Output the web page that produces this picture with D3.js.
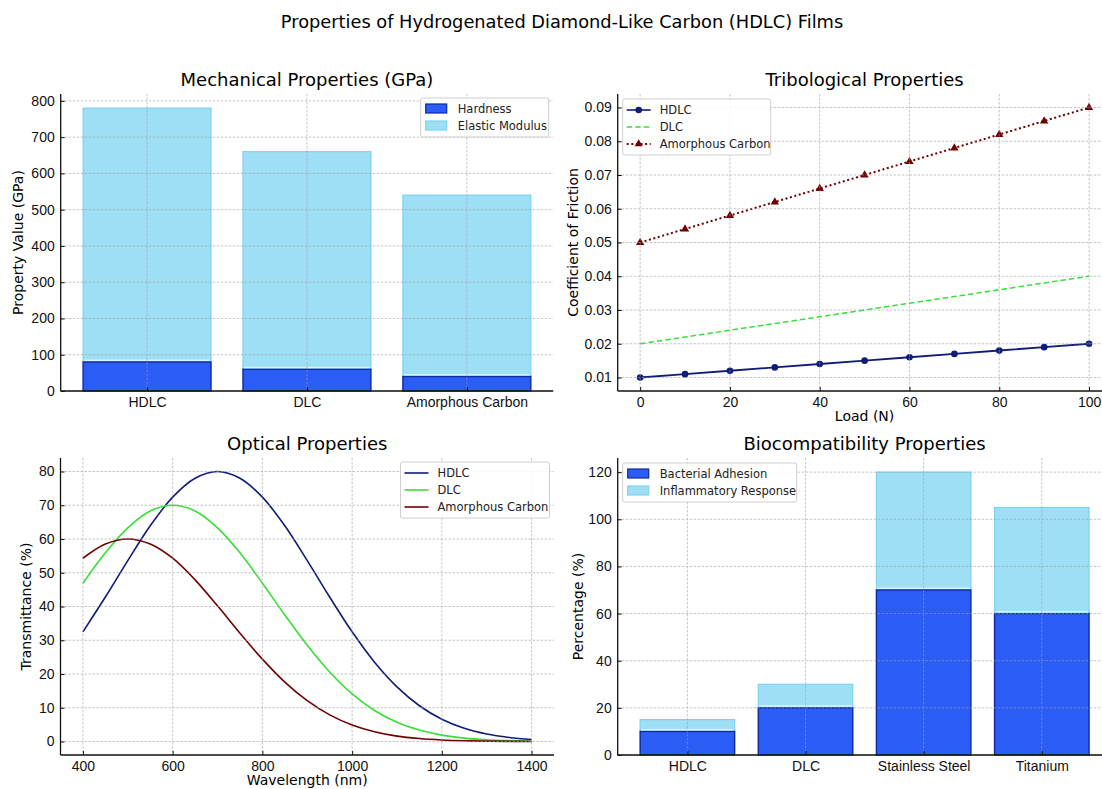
<!DOCTYPE html>
<html>
<head>
<meta charset="utf-8">
<script src="https://cdn.jsdelivr.net/npm/d3@7"></script>
<style>
  body { margin: 0; background: #fff; }
  svg { font-family: "DejaVu Sans", sans-serif; }
</style>
</head>
<body>
<script>
// ---- data ----
const mechCategories = ["HDLC", "DLC", "Amorphous Carbon"];
const hardness = [80, 60, 40];
const elasticModulus = [700, 600, 500];   // stacked on top of hardness
const mechTicks = [0, 100, 200, 300, 400, 500, 600, 700, 800];

const loads = [0, 10, 20, 30, 40, 50, 60, 70, 80, 90, 100];
const cofHDLC = [0.010, 0.011, 0.012, 0.013, 0.014, 0.015, 0.016, 0.017, 0.018, 0.019, 0.020];
const cofDLC = [0.020, 0.022, 0.024, 0.026, 0.028, 0.030, 0.032, 0.034, 0.036, 0.038, 0.040];
const cofAC = [0.050, 0.054, 0.058, 0.062, 0.066, 0.070, 0.074, 0.078, 0.082, 0.086, 0.090];
const loadTicks = [0, 20, 40, 60, 80, 100];
const cofTicks = [0.01, 0.02, 0.03, 0.04, 0.05, 0.06, 0.07, 0.08, 0.09];

const wavelengths = [400, 450, 500, 550, 600, 650, 700, 750, 800, 850, 900, 950, 1000,
  1050, 1100, 1150, 1200, 1250, 1300, 1350, 1400];
const transHDLC = [32.5, 42.8, 53.6, 63.9, 72.4, 78.0, 80.0, 78.0, 72.4, 63.9, 53.6, 42.8, 32.5,
  23.5, 16.2, 10.6, 6.6, 3.9, 2.2, 1.2, 0.6];
const transDLC = [46.9, 55.9, 63.3, 68.3, 70.0, 68.3, 63.3, 55.9, 46.9, 37.5, 28.5, 20.6, 14.1,
  9.2, 5.7, 3.4, 1.9, 1.0, 0.5, 0.25, 0.12];
const transAC = [54.3, 58.5, 60.0, 58.5, 54.3, 47.9, 40.2, 32.1, 24.4, 17.6, 12.1, 7.9, 4.9,
  2.9, 1.6, 0.88, 0.45, 0.22, 0.10, 0.04, 0.02];
const waveTicks = [400, 600, 800, 1000, 1200, 1400];
const transTicks = [0, 10, 20, 30, 40, 50, 60, 70, 80];

const bioCategories = ["HDLC", "DLC", "Stainless Steel", "Titanium"];
const bacterialAdhesion = [10, 20, 70, 60];
const inflammatoryResponse = [5, 10, 50, 45];   // stacked
const bioTicks = [0, 20, 40, 60, 80, 100, 120];

// ---- styles ----
const darkFill = "#2b5cf6", darkEdge = "#0c2a9e";
const lightFill = "#9edff6", lightEdge = "#7dd2f0";
const navy = "#0f1c78", green = "#36e036", maroon = "#6e0000";

const svg = d3.select("body").append("svg")
  .attr("width", 1102)
  .attr("height", 789);

svg.append("text")
  .attr("x", 562).attr("y", 28)
  .attr("text-anchor", "middle")
  .style("font-size", "17.8px")
  .text("Properties of Hydrogenated Diamond-Like Carbon (HDLC) Films");

function panel(box, xScale, yScale, xTicks, yTicks, xFmt, yFmt, title, xLabel, yLabel, yLabelX) {
  const g = svg.append("g").attr("transform", "translate(" + box.x + "," + box.y + ")");
  g.append("text")
    .attr("x", box.w / 2).attr("y", -8)
    .attr("text-anchor", "middle")
    .style("font-size", "18px")
    .text(title);
  const marks = g.append("g");
  const grid = g.append("g")
    .attr("stroke", "#a0a0a0")
    .attr("stroke-width", 0.8)
    .attr("stroke-dasharray", "2.5,1.5")
    .attr("opacity", 0.75);
  grid.selectAll(".gx").data(xTicks).join("line")
    .attr("x1", d => xScale(d)).attr("x2", d => xScale(d))
    .attr("y1", 0).attr("y2", box.h);
  grid.selectAll(".gy").data(yTicks).join("line")
    .attr("y1", d => yScale(d)).attr("y2", d => yScale(d))
    .attr("x1", 0).attr("x2", box.w);

  const xAxis = g.append("g")
    .attr("transform", "translate(0," + box.h + ")")
    .call(d3.axisBottom(xScale).tickValues(xTicks).tickFormat(xFmt)
      .tickSizeInner(-4).tickSizeOuter(0).tickPadding(6));
  const yAxis = g.append("g")
    .call(d3.axisLeft(yScale).tickValues(yTicks).tickFormat(yFmt)
      .tickSizeInner(-4).tickSizeOuter(0).tickPadding(6));
  [xAxis, yAxis].forEach(a => {
    a.selectAll("text").style("font-size", "14px").attr("fill", "#111");
    a.select(".domain").attr("stroke", "#111").attr("stroke-width", 1.3);
    a.selectAll(".tick line").attr("stroke", "#111");
  });
  xAxis.select(".domain").attr("d", "M0,0H" + box.w);
  yAxis.select(".domain").attr("d", "M0,0V" + box.h);

  g.append("text")
    .attr("x", box.w / 2).attr("y", box.h + 30)
    .attr("text-anchor", "middle")
    .style("font-size", "14px")
    .text(xLabel);
  g.append("text")
    .attr("transform", "translate(" + yLabelX + "," + (box.h / 2) + ") rotate(-90)")
    .attr("text-anchor", "middle")
    .style("font-size", "14px")
    .text(yLabel);
  return { g: g, marks: marks };
}

function legend(g, x, y, w, items) {
  const lg = g.append("g").attr("transform", "translate(" + x + "," + y + ")");
  const h = items.length * 17 + 5;
  lg.append("rect")
    .attr("width", w).attr("height", h)
    .attr("rx", 2)
    .attr("fill", "rgba(255,255,255,0.85)")
    .attr("stroke", "#cfcfcf");
  items.forEach((it, i) => {
    const cy = 11 + i * 17;
    const row = lg.append("g");
    if (it.type === "patch") {
      row.append("rect")
        .attr("x", 5).attr("y", cy - 5).attr("width", 21).attr("height", 9)
        .attr("fill", it.fill).attr("stroke", it.edge).attr("stroke-width", 1.2);
    } else {
      row.append("line")
        .attr("x1", 4).attr("x2", 28).attr("y1", cy).attr("y2", cy)
        .attr("stroke", it.color).attr("stroke-width", it.width || 1.6)
        .attr("stroke-dasharray", it.dash || null);
      if (it.marker) {
        row.append("path")
          .attr("transform", "translate(16," + cy + ")")
          .attr("d", d3.symbol(it.marker, it.msize)())
          .attr("fill", it.color);
      }
    }
    row.append("text")
      .attr("x", 37).attr("y", cy + 4)
      .style("font-size", "11.5px")
      .attr("fill", "#222")
      .text(it.label);
  });
}

// ---- panel 1: mechanical ----
{
  const box = { x: 60.7, y: 94, w: 492.5, h: 297 };
  const x = d3.scaleLinear().domain([-0.54, 2.54]).range([0, box.w]);
  const y = d3.scaleLinear().domain([0, 819]).range([box.h, 0]);
  const p = panel(box, x, y, [0, 1, 2], mechTicks, i => mechCategories[i], d3.format("d"),
    "Mechanical Properties (GPa)", "", "Property Value (GPa)", -38);
  const idx = d3.range(mechCategories.length);
  p.marks.selectAll(".em").data(idx).join("rect")
    .attr("x", i => x(i - 0.4)).attr("width", x(0.4) - x(-0.4))
    .attr("y", i => y(hardness[i] + elasticModulus[i]))
    .attr("height", i => y(hardness[i]) - y(hardness[i] + elasticModulus[i]))
    .attr("fill", lightFill).attr("stroke", lightEdge).attr("stroke-width", 1.2);
  p.marks.selectAll(".hd").data(idx).join("rect")
    .attr("x", i => x(i - 0.4)).attr("width", x(0.4) - x(-0.4))
    .attr("y", i => y(hardness[i]))
    .attr("height", i => y(0) - y(hardness[i]))
    .attr("fill", darkFill).attr("stroke", darkEdge).attr("stroke-width", 1.4);
  p.marks.selectAll(".sep").data(idx).join("line")
    .attr("x1", i => x(i - 0.4) + 1).attr("x2", i => x(i + 0.4) - 1)
    .attr("y1", i => y(hardness[i]) - 1.8).attr("y2", i => y(hardness[i]) - 1.8)
    .attr("stroke", "#d8f4fc").attr("stroke-width", 1.5);
  legend(p.g, 360, 4, 128, [
    { type: "patch", fill: darkFill, edge: darkEdge, label: "Hardness" },
    { type: "patch", fill: lightFill, edge: lightEdge, label: "Elastic Modulus" }
  ]);
}

// ---- panel 2: tribological ----
{
  const box = { x: 617.7, y: 94, w: 493.8, h: 297 };
  const x = d3.scaleLinear().domain([-5, 105]).range([0, box.w]);
  const y = d3.scaleLinear().domain([0.006, 0.094]).range([box.h, 0]);
  const p = panel(box, x, y, loadTicks, cofTicks, d3.format("d"), d3.format(".2f"),
    "Tribological Properties", "Load (N)", "Coefficient of Friction", -40);
  const line = vals => d3.line().x((d, i) => x(loads[i])).y(d => y(d))(vals);
  p.marks.append("path").attr("d", line(cofDLC))
    .attr("fill", "none").attr("stroke", green).attr("stroke-width", 1.5)
    .attr("stroke-dasharray", "5.5,3");
  p.marks.append("path").attr("d", line(cofAC))
    .attr("fill", "none").attr("stroke", maroon).attr("stroke-width", 2)
    .attr("stroke-dasharray", "2,2.6");
  p.marks.selectAll(".tri").data(cofAC).join("path")
    .attr("transform", (d, i) => "translate(" + x(loads[i]) + "," + y(d) + ")")
    .attr("d", d3.symbol(d3.symbolTriangle, 30)())
    .attr("fill", maroon);
  p.marks.append("path").attr("d", line(cofHDLC))
    .attr("fill", "none").attr("stroke", navy).attr("stroke-width", 1.8);
  p.marks.selectAll(".dot").data(cofHDLC).join("circle")
    .attr("cx", (d, i) => x(loads[i])).attr("cy", d => y(d))
    .attr("r", 3.3).attr("fill", navy);
  legend(p.g, 5, 5, 148, [
    { type: "line", color: navy, label: "HDLC", marker: d3.symbolCircle, msize: 34 },
    { type: "line", color: green, label: "DLC", dash: "5.5,3", width: 1.5 },
    { type: "line", color: maroon, label: "Amorphous Carbon", dash: "2,2.6", width: 2,
      marker: d3.symbolTriangle, msize: 28 }
  ]);
}

// ---- panel 3: optical ----
{
  const box = { x: 60.5, y: 458, w: 493.5, h: 297 };
  const x = d3.scaleLinear().domain([350, 1450]).range([0, box.w]);
  const y = d3.scaleLinear().domain([-4, 84]).range([box.h, 0]);
  const p = panel(box, x, y, waveTicks, transTicks, d3.format("d"), d3.format("d"),
    "Optical Properties", "Wavelength (nm)", "Transmittance (%)", -30);
  const line = vals => d3.line().curve(d3.curveCatmullRom)
    .x((d, i) => x(wavelengths[i])).y(d => y(d))(vals);
  [[transHDLC, navy], [transDLC, green], [transAC, maroon]].forEach(s => {
    p.marks.append("path").attr("d", line(s[0]))
      .attr("fill", "none").attr("stroke", s[1]).attr("stroke-width", 1.6);
  });
  legend(p.g, 340, 4, 149, [
    { type: "line", color: navy, label: "HDLC" },
    { type: "line", color: green, label: "DLC" },
    { type: "line", color: maroon, label: "Amorphous Carbon" }
  ]);
}

// ---- panel 4: biocompatibility ----
{
  const box = { x: 617.7, y: 458, w: 493.8, h: 297 };
  const x = d3.scaleLinear().domain([-0.59, 3.59]).range([0, box.w]);
  const y = d3.scaleLinear().domain([0, 126]).range([box.h, 0]);
  const p = panel(box, x, y, [0, 1, 2, 3], bioTicks, i => bioCategories[i], d3.format("d"),
    "Biocompatibility Properties", "", "Percentage (%)", -35);
  const idx = d3.range(bioCategories.length);
  p.marks.selectAll(".inf").data(idx).join("rect")
    .attr("x", i => x(i - 0.4)).attr("width", x(0.4) - x(-0.4))
    .attr("y", i => y(bacterialAdhesion[i] + inflammatoryResponse[i]))
    .attr("height", i => y(bacterialAdhesion[i]) - y(bacterialAdhesion[i] + inflammatoryResponse[i]))
    .attr("fill", lightFill).attr("stroke", lightEdge).attr("stroke-width", 1.2);
  p.marks.selectAll(".bac").data(idx).join("rect")
    .attr("x", i => x(i - 0.4)).attr("width", x(0.4) - x(-0.4))
    .attr("y", i => y(bacterialAdhesion[i]))
    .attr("height", i => y(0) - y(bacterialAdhesion[i]))
    .attr("fill", darkFill).attr("stroke", darkEdge).attr("stroke-width", 1.4);
  p.marks.selectAll(".sep").data(idx).join("line")
    .attr("x1", i => x(i - 0.4) + 1).attr("x2", i => x(i + 0.4) - 1)
    .attr("y1", i => y(bacterialAdhesion[i]) - 1.8).attr("y2", i => y(bacterialAdhesion[i]) - 1.8)
    .attr("stroke", "#d8f4fc").attr("stroke-width", 1.5);
  legend(p.g, 5, 5, 174, [
    { type: "patch", fill: darkFill, edge: darkEdge, label: "Bacterial Adhesion" },
    { type: "patch", fill: lightFill, edge: lightEdge, label: "Inflammatory Response" }
  ]);
}
</script>
</body>
</html>
